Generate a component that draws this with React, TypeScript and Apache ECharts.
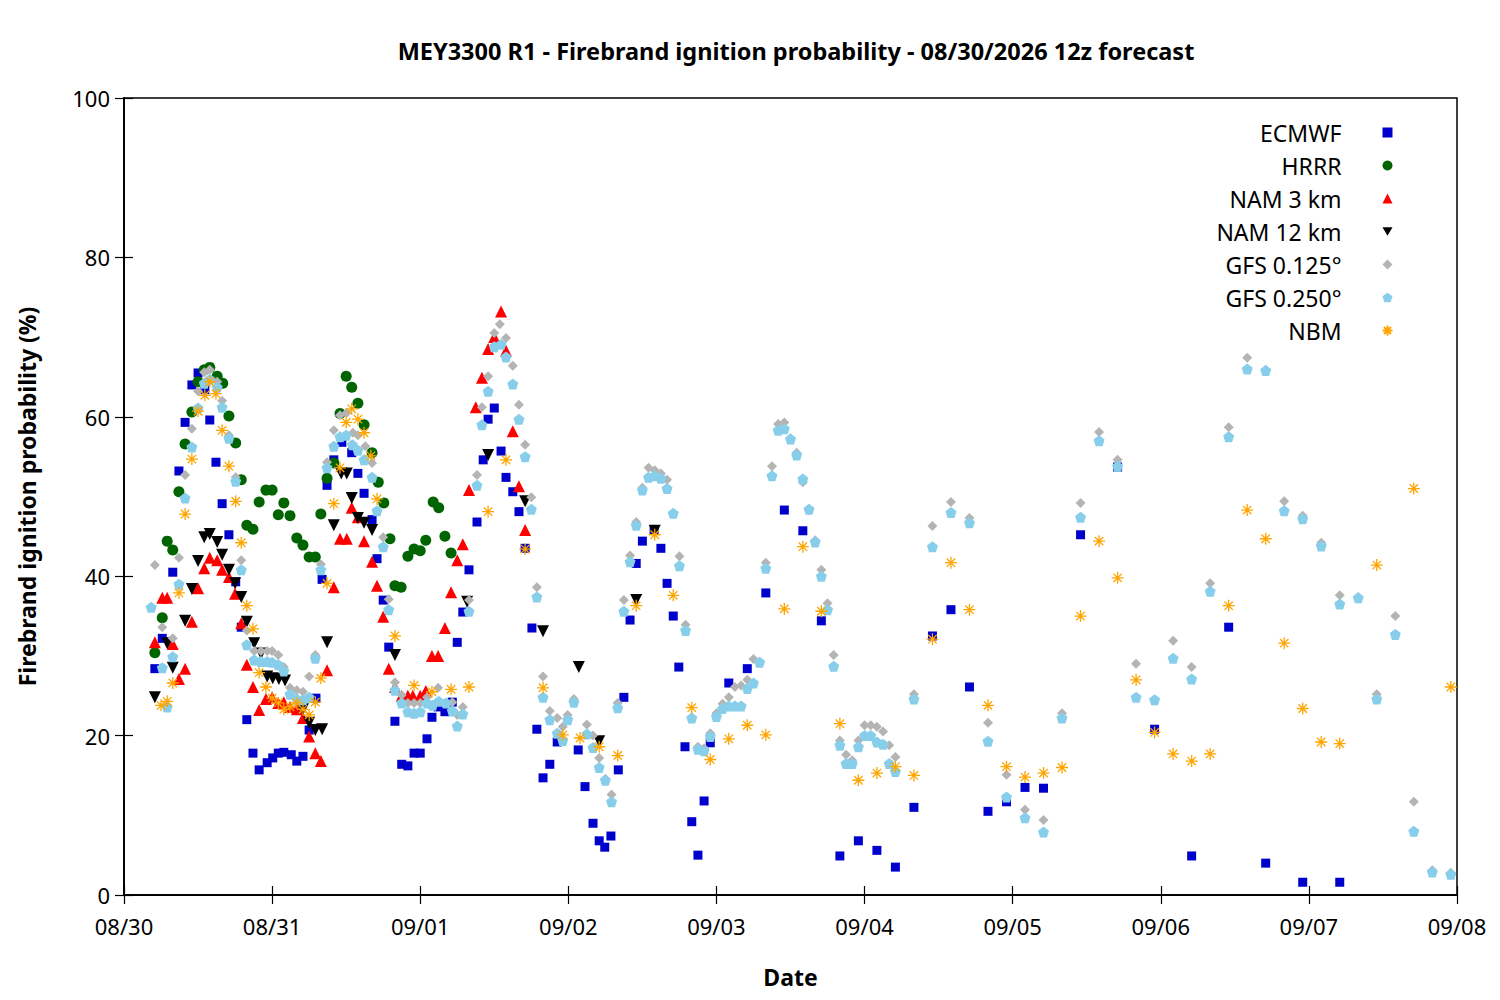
import { useEffect, useRef } from "react"
import * as echarts from "echarts"

// hours since 08/30 00z, probability (%)
const dayLabels = ["08/30", "08/31", "09/01", "09/02", "09/03", "09/04", "09/05", "09/06", "09/07", "09/08"]

const ecmwf = [[5,28.4],[6.2,32.2],[7.9,40.5],[8.9,53.2],[9.9,59.3],[11,64],[12,65.5],[13.1,63.4],[13.9,59.6],[14.9,54.3],[15.9,49.1],[17,45.2],[18.1,39.3],[19,33.6],[19.9,22],[20.9,17.8],[21.9,15.7],[23.2,16.6],[24.1,17.2],[25,17.8],[25.9,17.9],[27.1,17.6],[28,16.8],[29,17.4],[30,20.7],[31.1,24.7],[32.1,39.6],[32.9,51.4],[34,54.6],[35.3,56.8],[36.9,55.5],[37.9,52.9],[38.9,50.4],[40.2,47.1],[41,42.2],[42,37],[42.9,31.1],[43.9,21.8],[45,16.4],[46,16.2],[47,17.8],[48,17.8],[49.1,19.6],[49.9,22.3],[50.9,23.6],[52,23],[53.2,24.2],[54,31.7],[54.9,35.5],[55.9,40.8],[57.2,46.8],[58.2,54.6],[59,59.7],[60,61.1],[61.1,55.7],[61.9,52.4],[63,50.6],[64,48.1],[65,43.5],[66.1,33.5],[66.9,20.8],[67.9,14.7],[69,16.4],[70.2,19.2],[73.6,18.2],[74.7,13.6],[76,9],[77,6.8],[77.9,6],[78.9,7.4],[80.1,15.7],[81,24.8],[82,34.5],[83,41.6],[84,44.4],[85.9,45.8],[87,43.5],[88,39.1],[89,35],[89.9,28.6],[90.9,18.6],[92,9.2],[93,5],[94,11.8],[95,19.1],[98,26.6],[101,28.4],[104,37.9],[107,48.3],[110,45.7],[113,34.4],[116,4.9],[119,6.8],[122,5.6],[125,3.5],[128,11],[131,32.5],[134,35.8],[137,26.1],[140,10.5],[143,11.7],[146,13.5],[149,13.4],[155,45.2],[161,53.7],[167,20.8],[173,4.9],[179,33.6],[185,4],[191,1.6],[197,1.6]]

const hrrr = [[5,30.4],[6.2,34.8],[7,44.4],[7.9,43.3],[8.9,50.6],[9.9,56.6],[11,60.6],[12,64.4],[13,65.9],[13.9,66.2],[15.1,65.1],[16,64.2],[17,60.1],[18.1,56.7],[19,52.1],[19.9,46.4],[20.9,45.9],[21.9,49.3],[23,50.8],[24,50.8],[25,47.7],[25.9,49.2],[26.9,47.6],[28,44.8],[29,43.9],[30,42.4],[31,42.4],[31.9,47.8],[32.9,52.3],[34,54.2],[35,60.4],[36,65.1],[36.9,63.7],[37.9,61.7],[38.9,59],[40.2,55.5],[41.2,51.8],[42.1,49.2],[43.1,44.7],[43.9,38.8],[44.9,38.6],[46,42.5],[47,43.4],[48,43.2],[48.9,44.5],[50.1,49.3],[51,48.6],[52,45],[53,42.9]]

const nam3 = [[5,31.7],[6.2,37.3],[7,37.3],[7.9,31.5],[8.9,27.1],[9.9,28.4],[11,34.3],[12,38.5],[13,41],[13.9,42.3],[15.1,42],[15.9,40.8],[17,39.9],[18,37.8],[19,34.1],[19.9,28.9],[20.9,26.1],[21.9,23.2],[23,24.6],[24,24.8],[25,24.1],[25.9,24.2],[26.9,23.6],[28,23.3],[29,22.2],[30,19.9],[31,17.8],[31.9,16.8],[32.9,28.2],[34,38.6],[35,44.7],[36.1,44.7],[36.9,48.6],[37.9,47.4],[38.9,44.4],[40.2,41.8],[41,38.8],[42,34.9],[42.9,28.4],[43.9,26.1],[45,25],[46,25],[46.8,25],[48,25],[48.9,25.6],[49.9,30],[50.9,30],[52,33.5],[53,38],[54,42],[54.9,44],[55.9,50.8],[57,61.2],[58,64.9],[59,68.5],[60,70],[61.1,73.2],[61.9,68.3],[63,58.2],[64,51.3],[65,45.8]]

const nam12 = [[5,24.8],[7,31.6],[7.9,28.5],[9.9,34.4],[11,38.4],[12,41.9],[13,44.9],[13.9,45.3],[15.1,44.3],[15.9,42.7],[17,40.8],[18,39.1],[19,37.4],[19.9,34.3],[21.1,31.6],[22.2,30.3],[23.2,27.4],[24.1,27.2],[25.1,27.1],[26.1,26.9],[29,23.3],[30,21.6],[31,20.7],[32.1,20.8],[32.9,31.7],[34,46.4],[35.2,52.9],[36.1,52.9],[36.9,49.8],[37.9,47.3],[38.9,46.7],[40.2,45.8],[43.9,30.1],[55.6,36.8],[59,55.2],[65,49.4],[67.9,33.1],[73.7,28.6],[77,19.3],[83,37],[86,45.7]]

const gfs125 = [[5,41.4],[6.2,33.6],[7.9,32.2],[8.9,42.3],[9.9,52.7],[11,58.5],[12,63.2],[13,65.6],[13.9,65.9],[15.1,64.4],[15.9,62],[17,57.7],[18.1,52.4],[19,42],[19.9,33.2],[21.1,30.6],[22.2,30.6],[23.2,30.6],[24,30.6],[25,30.1],[25.9,28.6],[26.9,26],[28,25.7],[29,25.5],[30,27.4],[31,30.1],[31.9,41.5],[32.9,54.3],[34,58.3],[35,60.2],[36.1,60.5],[37.1,58],[37.9,57.7],[39.1,56.3],[40.2,54.2],[42,44.9],[42.9,37.1],[43.9,26.7],[45,25.1],[46,24.1],[47,24.1],[48,24.1],[49.1,24.8],[50.9,26],[53.2,24.2],[54,22.6],[54.9,23.6],[55.9,37],[57.2,52.7],[58,61.2],[59,65.1],[60,70.5],[60.9,71.6],[61.9,69.9],[63,66.4],[64,61.5],[65,56.5],[66,49.9],[66.9,38.6],[67.9,27.4],[69,23.1],[70.2,22.2],[71.1,21.1],[71.9,22.6],[72.9,24.6],[75,21.4],[76,20],[77,17.2],[78,14.6],[79,12.6],[80,24.1],[81,37],[82,42.6],[83,46.8],[84,51.1],[85,53.6],[86,53.3],[87,52.9],[88,52.1],[89,47.9],[90,42.5],[91,33.9],[92,22.3],[93,18.6],[94,18.4],[95,20.3],[96,22.8],[97,24],[98,24.8],[99,26.1],[100,26.3],[101,27],[102,29.6],[104,41.7],[105,53.8],[106,59.1],[107,59.3],[108,57.3],[109,55.5],[110,51.8],[111,48.3],[112,44.5],[113,40.8],[114,36.6],[115,30.1],[116,19.4],[117,17.6],[118,16.9],[119,19.4],[120,21.3],[121,21.3],[122,21.1],[123,20.5],[124,18.8],[125,17.3],[128,25.2],[131,46.3],[134,49.3],[137,47.3],[140,21.6],[143,15.1],[146,10.7],[149,9.4],[152,22.8],[155,49.2],[158,58.1],[161,54.6],[164,29],[167,24.5],[170,31.9],[173,28.6],[176,39.1],[179,58.7],[182,67.4],[185,65.9],[188,49.4],[191,47.6],[194,44.2],[197,37.6],[200,37.4],[203,25.2],[206,35],[209,11.7],[212,3.1],[215,2.8]]

const gfs250 = [[4.4,36.1],[6.2,28.5],[7,23.6],[7.9,29.9],[8.9,39],[9.9,49.8],[11,56.2],[12,61.1],[13,64.2],[13.9,64.7],[15.1,63.7],[15.9,61.2],[17,57.3],[18.1,51.9],[19,40.8],[19.9,31.4],[21.1,29.5],[22.2,29.3],[23.2,29.3],[24,29.2],[25,28.9],[25.9,28.1],[26.9,25.2],[28,24.6],[29,24.5],[30,24.8],[31,29.7],[31.9,40.8],[32.9,53.6],[34,56.3],[35,57.5],[36,57.7],[37,56.5],[37.9,55.8],[38.9,54.6],[40.2,52.4],[41,48.2],[42,43.7],[42.9,35.8],[43.9,25.7],[45,24.1],[46,23],[47,22.8],[48,23],[49.1,24.1],[50,23.8],[51,24.3],[52.2,24.1],[53.2,23.1],[54,21.2],[54.9,22.7],[55.9,35.6],[57.2,51.4],[58,59],[59,63.2],[60,68.8],[61.1,69.1],[61.9,67.5],[63,64.1],[64,59.7],[65,55],[66,48.4],[66.9,37.4],[67.9,24.8],[69,22],[70.2,20.3],[71.1,19.4],[71.9,22],[72.9,24.2],[75,20.2],[76,18.5],[77,16],[78,14.4],[79,11.7],[80,23.5],[81,35.6],[82,41.8],[83,46.4],[84,50.8],[85,52.4],[86,52.6],[87,52.3],[88,51],[89,47.9],[90,41.3],[91,33.2],[92,22.2],[93,18.3],[94,18.1],[95,19.9],[96,22.4],[97,23.4],[98,23.7],[99,23.7],[100,23.7],[101,25.9],[102,26.6],[103,29.2],[104,41],[105,52.6],[106,58.3],[107,58.5],[108,57.2],[109,55.2],[110,52.2],[111,48.4],[112,44.3],[113,40],[114,35.8],[115,28.7],[116,18.8],[117,16.5],[118,16.5],[119,18.6],[120,20],[121,20],[122,19.2],[123,18.9],[124,16.5],[125,15.5],[128,24.6],[131,43.7],[134,48],[137,46.7],[140,19.3],[143,12.3],[146,9.7],[149,7.9],[152,22.2],[155,47.4],[158,57],[161,53.8],[164,24.8],[167,24.5],[170,29.7],[173,27.1],[176,38.1],[179,57.5],[182,66],[185,65.8],[188,48.2],[191,47.2],[194,43.8],[197,36.5],[200,37.3],[203,24.6],[206,32.7],[209,8],[212,2.9],[215,2.6]]

const nbm = [[6,23.8],[7,24.3],[7.9,26.6],[8.9,37.9],[9.9,47.8],[11,54.7],[12,60.7],[13.1,62.7],[13.9,64.4],[14.9,62.9],[15.9,58.3],[17,53.8],[18.1,49.4],[19,44.2],[19.9,36.3],[20.9,33.4],[21.9,27.9],[23,26.1],[24,24.7],[25,24.1],[25.9,23.3],[26.9,23.6],[28,24.1],[29,23.3],[30,22.6],[31,24.2],[31.9,27.2],[32.9,39.1],[34,49.1],[35,53.6],[36,59.3],[36.9,61],[37.9,59.7],[38.9,58],[40,55.1],[41,49.7],[43.9,32.5],[47,26.3],[49.9,25.5],[53,25.8],[55.9,26.1],[59,48.1],[61.9,54.6],[65,43.4],[67.9,26],[71.1,20.1],[73.9,19.7],[77,18.6],[80,17.5],[83,36.3],[86,45.2],[89,37.6],[92,23.5],[95,17],[98,19.6],[101,21.3],[104,20.1],[107,35.9],[110,43.7],[113,35.6],[116,21.5],[119,14.4],[122,15.3],[125,16.1],[128,15],[131,32.1],[134,41.7],[137,35.8],[140,23.8],[143,16.1],[146,14.8],[149,15.3],[152,16],[155,35],[158,44.4],[161,39.8],[164,27],[167,20.4],[170,17.7],[173,16.8],[176,17.7],[179,36.3],[182,48.3],[185,44.7],[188,31.6],[191,23.4],[194,19.2],[197,19],[203,41.4],[209,51],[215,26.1]]

const FONT = "'Noto Sans', 'Open Sans', sans-serif"
const pentagon = "path://M0,-10L9.5,-3.1L5.9,8.1L-5.9,8.1L-9.5,-3.1Z"
const downTri = "path://M-10,-8L10,-8L0,9Z"
const star = "path://M0,-10L0,10M-10,0L10,0M-7,-7L7,7M-7,7L7,-7"

export default function App() {
  const chartRef = useRef<HTMLDivElement>(null)

  useEffect(() => {
    document.body.style.margin = "0"
    if (!chartRef.current) return
    const chart = echarts.init(chartRef.current, null, { renderer: "svg" })

    const scatter = (name: string, data: number[][], symbol: string, color: string, size: number, extra: any = {}) => ({
      name,
      type: "scatter",
      data,
      symbol,
      symbolSize: size,
      itemStyle: { color, opacity: 1 },
      ...extra,
    })

    const tick = { show: true, inside: true, length: 9, lineStyle: { color: "#000", width: 1.2 } }

    chart.setOption({
      animation: false,
      backgroundColor: "#fff",
      textStyle: { fontFamily: FONT },
      title: {
        text: "MEY3300 R1 - Firebrand ignition probability - 08/30/2026 12z forecast",
        left: 791,
        textAlign: "center",
        top: 34,
        textStyle: { fontFamily: FONT, fontSize: 23.5, fontWeight: "bold", color: "#000" },
      },
      legend: {
        orient: "vertical",
        right: 100,
        top: 116,
        align: "right",
        itemWidth: 10,
        itemHeight: 10,
        itemGap: 10,
        textStyle: { fontFamily: FONT, fontSize: 23, color: "#000", padding: [0, 36, 0, 0] },
        data: ["ECMWF", "HRRR", "NAM 3 km", "NAM 12 km", "GFS 0.125°", "GFS 0.250°", "NBM"],
      },
      grid: { left: 124, right: 43, top: 98, bottom: 105, show: true, borderColor: "#000", borderWidth: 1.5 },
      xAxis: [
        {
          type: "value",
          min: 0,
          max: 216,
          interval: 24,
          name: "Date",
          nameLocation: "middle",
          nameGap: 70,
          nameTextStyle: { fontFamily: FONT, fontSize: 23, fontWeight: "bold", color: "#000" },
          axisLine: { lineStyle: { color: "#000", width: 1.5 } },
          axisTick: tick,
          axisLabel: {
            fontFamily: FONT,
            fontSize: 22,
            color: "#000",
            margin: 20,
            formatter: (v: number) => dayLabels[Math.round(v / 24)] ?? "",
          },
          splitLine: { show: false },
        },
        {
          type: "value",
          position: "top",
          min: 0,
          max: 216,
          interval: 24,
          axisLine: { show: true, lineStyle: { color: "#000", width: 1.5 } },
          axisTick: tick,
          axisLabel: { show: false },
          splitLine: { show: false },
        },
      ],
      yAxis: [
        {
          type: "value",
          min: 0,
          max: 100,
          interval: 20,
          name: "Firebrand ignition probability (%)",
          nameLocation: "middle",
          nameGap: 86,
          nameTextStyle: { fontFamily: FONT, fontSize: 23, fontWeight: "bold", color: "#000" },
          axisLine: { show: true, lineStyle: { color: "#000", width: 1.5 } },
          axisTick: tick,
          axisLabel: { fontFamily: FONT, fontSize: 22, color: "#000", margin: 14 },
          splitLine: { show: false },
        },
        {
          type: "value",
          position: "right",
          min: 0,
          max: 100,
          interval: 20,
          axisLine: { show: true, lineStyle: { color: "#000", width: 1.5 } },
          axisTick: tick,
          axisLabel: { show: false },
          splitLine: { show: false },
        },
      ],
      series: [
        scatter("ECMWF", ecmwf, "rect", "#0000cc", 9),
        scatter("HRRR", hrrr, "circle", "#006400", 11),
        scatter("NAM 3 km", nam3, "triangle", "#ff0000", 12),
        scatter("NAM 12 km", nam12, downTri, "#000000", 12),
        scatter("GFS 0.125°", gfs125, "diamond", "#b4b4b4", 10),
        scatter("GFS 0.250°", gfs250, pentagon, "#87ceeb", 11),
        scatter("NBM", nbm, star, "#ffa500", 12, {
          itemStyle: { color: "none", borderColor: "#ffa500", borderWidth: 1.3, opacity: 1 },
        }),
      ],
    })

    return () => chart.dispose()
  }, [])

  return <div ref={chartRef} style={{ width: 1500, height: 1000 }} />
}
